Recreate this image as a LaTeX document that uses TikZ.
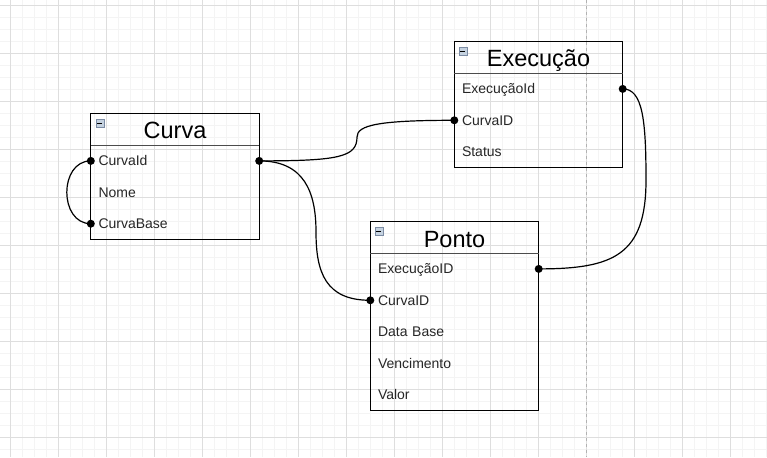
\documentclass[tikz,border=0pt]{standalone}
\usepackage{fontspec}
\setmainfont{Liberation Sans}
\usepackage{xcolor}
\usetikzlibrary{positioning}
\definecolor{gridmajor}{HTML}{DEDEDE}
\definecolor{gridminor}{HTML}{F4F4F4}
\definecolor{iconfill}{HTML}{C5D2E0}
\definecolor{iconedge}{HTML}{7C8CA4}
\tikzset{%
    tabletitle/.style={%
        minimum width=168pt, minimum height=31pt, inner sep=0pt,
        font=\fontsize{23.5}{26}\selectfont, text height=22pt, text depth=3pt},
    tablerow/.style={%
        minimum height=31pt, inner xsep=7.5pt, inner ysep=0pt,
        text width=153pt, align=left, text=black!85,
        font=\fontsize{14}{16}\selectfont, text height=12pt, text depth=2pt},
    minusicon/.style={%
        rectangle, minimum size=8pt, inner sep=0pt, fill=iconfill, draw=iconedge,
        line width=0.6pt,
        path picture={\draw[black,line width=1.2pt]
            ([xshift=1.6pt]path picture bounding box.west) --
            ([xshift=-1.6pt]path picture bounding box.east);}},
    link/.style={line width=1.2pt},
}

\begin{document}
\begin{tikzpicture}[x=1pt,y=-1pt]
    \useasboundingbox (0,0) rectangle (767,457);
    \fill[white] (0,0) rectangle (767,457);

    % grid
    \foreach \i in {0,...,63} \draw[gridminor,line width=1pt] (10.5+12*\i,0)--(10.5+12*\i,457);
    \foreach \i in {0,...,37} \draw[gridminor,line width=1pt] (0,5.3+12*\i)--(767,5.3+12*\i);
    \foreach \i in {0,...,15} \draw[gridmajor,line width=1pt] (10.5+48*\i,0)--(10.5+48*\i,457);
    \foreach \i in {0,...,9} \draw[gridmajor,line width=1pt] (0,5.3+48*\i)--(767,5.3+48*\i);
    \draw[black!30,dashed,line width=0.8pt] (586.5,0)--(586.5,457);

    % Curva
    \node[tabletitle] (curva) at (175,129.5) {Curva};
    \node[tablerow,below=0pt of curva] (curvaid) {CurvaId};
    \node[tablerow,below=0pt of curvaid] (curvanome) {Nome};
    \node[tablerow,below=0pt of curvanome] (curvabase) {CurvaBase};
    \draw[line width=1.2pt] (curva.north west) rectangle (curvabase.south east);
    \draw[black!70,line width=1pt] (curva.south west)--(curva.south east);
    \node[minusicon] (curvaicon) at ([xshift=9pt,yshift=-9.5pt]curva.north west) {};

    % Execucao
    \node[tabletitle] (exec) at (538.5,57.5) {Execução};
    \node[tablerow,below=0pt of exec] (execid) {ExecuçãoId};
    \node[tablerow,below=0pt of execid] (execcurva) {CurvaID};
    \node[tablerow,below=0pt of execcurva] (execstatus) {Status};
    \draw[line width=1.2pt] (exec.north west) rectangle (execstatus.south east);
    \draw[black!70,line width=1pt] (exec.south west)--(exec.south east);
    \node[minusicon] (execicon) at ([xshift=8.5pt,yshift=-9.5pt]exec.north west) {};

    % Ponto
    \node[tabletitle] (ponto) at (454.5,237.5) {Ponto};
    \node[tablerow,below=0pt of ponto] (pontoexec) {ExecuçãoID};
    \node[tablerow,below=0pt of pontoexec] (pontocurva) {CurvaID};
    \node[tablerow,below=0pt of pontocurva] (pontodata) {Data Base};
    \node[tablerow,below=0pt of pontodata] (pontovenc) {Vencimento};
    \node[tablerow,below=0pt of pontovenc] (pontovalor) {Valor};
    \draw[line width=1.2pt] (ponto.north west) rectangle (pontovalor.south east);
    \draw[black!70,line width=1pt] (ponto.south west)--(ponto.south east);
    \node[minusicon] (pontoicon) at ([xshift=8.5pt,yshift=-9.5pt]ponto.north west) {};

    % links
    \coordinate (bendA) at (357,137);
    \coordinate (bendB) at (316,232);
    \coordinate (bendC) at (646,180);
    \draw[link] (curvaid.west) .. controls +(-32,0) and +(-32,0) .. (curvabase.west);
    \draw[link] (curvaid.east) .. controls +(80,0) and +(0,20) .. (bendA)
        .. controls +(0,-12) and +(-75,0) .. (execcurva.west);
    \draw[link] (curvaid.east) .. controls +(45,0) and +(0,-40) .. (bendB)
        .. controls +(0,40) and +(-45,0) .. (pontocurva.west);
    \draw[link] (execid.east) .. controls +(20,0) and +(0,-60) .. (bendC)
        .. controls +(0,75) and +(75,0) .. (pontoexec.east);
    \foreach \p in {curvaid.west,curvabase.west,curvaid.east,execcurva.west,
                    pontocurva.west,execid.east,pontoexec.east}
        \fill (\p) circle (4pt);
\end{tikzpicture}
\end{document}
